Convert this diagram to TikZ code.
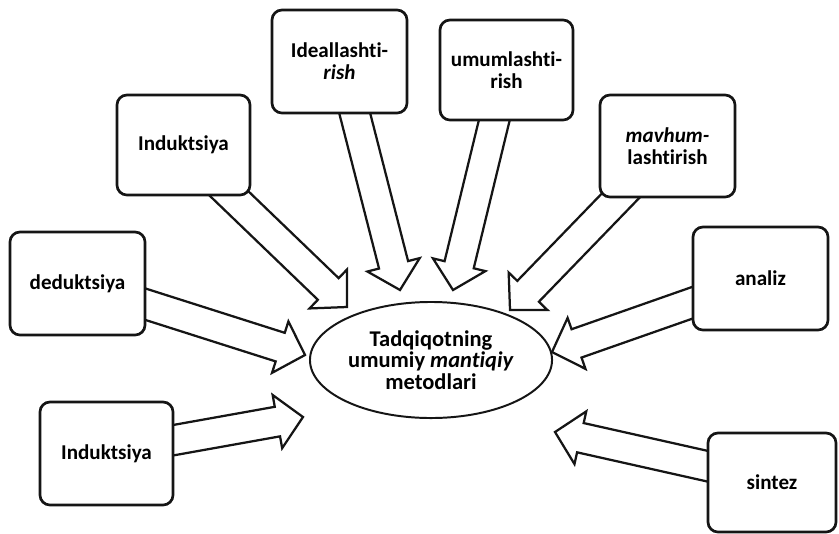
\documentclass[tikz,border=0pt]{standalone}
\usepackage{fontspec}
\setmainfont{Carlito}[Ligatures={CommonOff,ContextualOff}]
\usetikzlibrary{calc,positioning,shapes.geometric,backgrounds}
\definecolor{scanInk}{HTML}{151515}
\tikzset{
  method/.style={draw=scanInk,line width=1.9pt,rounded corners=0.25cm,fill=white,
    minimum width=3.375cm,minimum height=2.575cm,align=center,inner sep=2pt,
    font=\bfseries\fontsize{15}{15.5}\selectfont},
  core/.style={draw=scanInk,ellipse,line width=1.4pt,fill=white,
    minimum width=6.05cm,minimum height=2.9cm,align=center,inner sep=0pt,
    font=\bfseries\fontsize{16}{15.5}\selectfont},
  hollow/.style={draw=scanInk,line width=1.6pt,fill=white,line join=miter}
}
% hollow block arrow from foot #1 to tip #2
\newcommand\blockarrow[2]{%
  \path ($(#1)!-0.5cm!(#2)$) coordinate (ba-base)
        ($(#2)!0.65cm!(#1)$) coordinate (ba-neck);
  \draw[hollow] ($(ba-base)!0.375cm!90:(#2)$) -- ($(ba-neck)!0.375cm!90:(#2)$)
    -- ($(ba-neck)!0.675cm!90:(#2)$) -- (#2) -- ($(ba-neck)!0.675cm!-90:(#2)$)
    -- ($(ba-neck)!0.375cm!-90:(#2)$) -- ($(ba-base)!0.375cm!-90:(#2)$) -- cycle;}

\begin{document}
\begin{tikzpicture}[x=0.025cm,y=-0.025cm]
  \useasboundingbox (0,0) rectangle (839,533);
  \node[core] (core) at (431,360) {Tadqiqotning\\umumiy \textit{mantiqiy}\\metodlari};
  \node[method] (ded) at (77.5,283.5) {deduktsiya};
  \node[method,minimum width=3.325cm,minimum height=2.5cm] (indA) at (183.5,145) {Induktsiya};
  \node[method] (ideal) at (339.5,61.5) {Ideallashti-\\\textit{rish}};
  \node[method,minimum width=3.325cm,minimum height=2.5cm] (umum) at (506.5,70) {umumlashti-\\rish};
  \node[method,minimum height=2.55cm] (mavhum) at (667.5,146) {\textit{mavhum-}\\lashtirish};
  \node[method] (analiz) at (760.5,278.5) {analiz};
  \node[method,minimum width=3.325cm] (indB) at (106.5,453.5) {Induktsiya};
  \node[method,minimum width=3.2cm,minimum height=2.475cm] (sintez) at (772,482.5) {sintez};
  % arrow feet
  \coordinate (ded-out) at ($(ded.east)+(0,21)$);
  \coordinate (indB-out) at ($(indB.east)+(0,-13.5)$);
  \coordinate (indA-out) at ($(indA.south)+(48.5,0)$);
  \coordinate (ideal-out) at ($(ideal.south)+(15.5,0)$);
  \coordinate (umum-out) at ($(umum.south)+(-12.5,0)$);
  \coordinate (mavhum-out) at ($(mavhum.south)+(-49.5,0)$);
  \coordinate (analiz-out) at ($(analiz.west)+(0,24.5)$);
  \coordinate (sintez-out) at ($(sintez.west)+(0,-16.5)$);
  % arrow tips
  \coordinate (ded-in) at (305,355);
  \coordinate (indB-in) at (303,417);
  \coordinate (indA-in) at (347,307);
  \coordinate (ideal-in) at (400,290);
  \coordinate (umum-in) at (453,290);
  \coordinate (mavhum-in) at (510,310);
  \coordinate (analiz-in) at (552,352);
  \coordinate (sintez-in) at (555,432);
  \begin{scope}[on background layer]
    \blockarrow{ded-out}{ded-in}
    \blockarrow{indB-out}{indB-in}
    \blockarrow{indA-out}{indA-in}
    \blockarrow{ideal-out}{ideal-in}
    \blockarrow{umum-out}{umum-in}
    \blockarrow{mavhum-out}{mavhum-in}
    \blockarrow{analiz-out}{analiz-in}
    \blockarrow{sintez-out}{sintez-in}
  \end{scope}
\end{tikzpicture}
\end{document}
